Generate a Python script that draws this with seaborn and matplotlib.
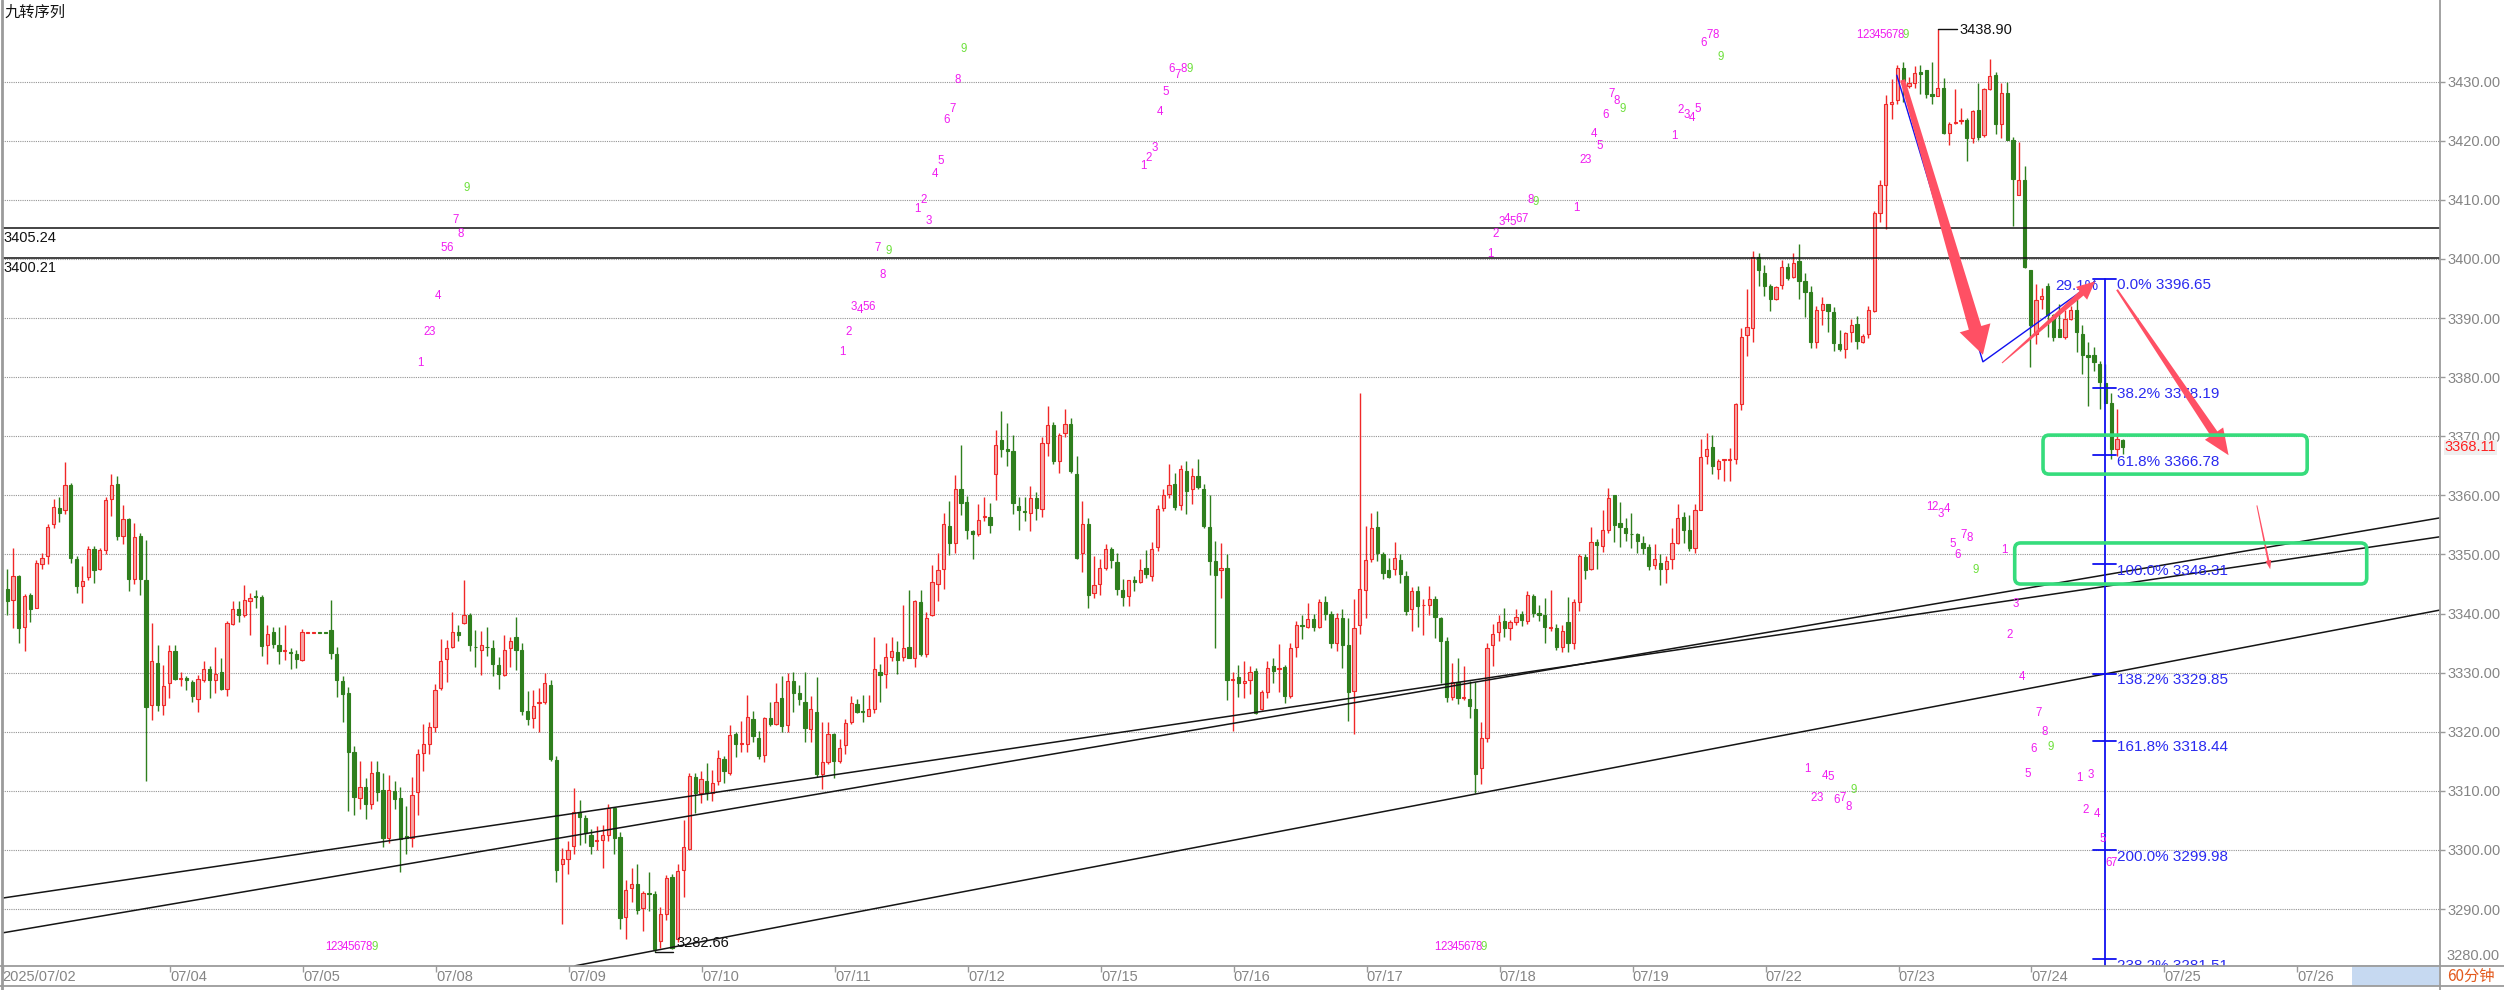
import numpy as np
import pandas as pd
import matplotlib
matplotlib.use("Agg")
import matplotlib.pyplot as plt
import seaborn as sns
from matplotlib.patches import Polygon, FancyBboxPatch, Rectangle
from matplotlib.lines import Line2D
from matplotlib.transforms import IdentityTransform, blended_transform_factory

# ---------------- data (60 min bars) ----------------
opens = [
    3344.2, 3342.3, 3346.4, 3337.7, 3343.2, 3341.0, 3348.4, 3349.7, 3355.1, 3357.9,
    3357.6, 3361.8, 3349.2, 3344.6, 3346.2, 3350.9, 3347.5, 3350.7, 3359.4, 3362.0,
    3353.2, 3356.0, 3345.8, 3353.1, 3345.7, 3324.6, 3331.6, 3324.6, 3328.2, 3333.7,
    3329.0, 3329.1, 3328.5, 3325.5, 3328.8, 3330.7, 3328.8, 3330.2, 3327.2, 3338.2,
    3340.8, 3339.8, 3342.2, 3342.9, 3342.8, 3334.7, 3336.8, 3334.6, 3333.7, 3333.5,
    3333.1, 3332.2, 3336.7, 3336.7, 3336.8, 3336.8, 3337.2, 3333.2, 3328.6, 3326.6,
    3316.5, 3308.8, 3310.7, 3307.7, 3313.2, 3310.1, 3302.1, 3310.0, 3308.8, 3302.3,
    3302.1, 3309.8, 3316.4, 3317.9, 3320.8, 3327.4, 3332.3, 3334.4, 3336.8, 3338.4,
    3339.7, 3334.4, 3333.9, 3334.4, 3334.1, 3331.3, 3329.6, 3334.1, 3336.0, 3333.9,
    3323.6, 3322.3, 3324.9, 3325.0, 3328.0, 3315.3, 3297.7, 3298.5, 3300.6, 3306.5,
    3305.4, 3302.6, 3301.5, 3301.7, 3302.5, 3307.1, 3302.2, 3288.6, 3293.6, 3294.3,
    3290.2, 3292.7, 3292.5, 3284.6, 3289.1, 3295.4, 3285.0, 3296.6, 3300.2, 3312.3,
    3309.6, 3311.7, 3309.7, 3311.6, 3315.4, 3313.0, 3319.6, 3317.9, 3317.9, 3322.1,
    3319.0, 3316.0, 3322.3, 3321.3, 3325.7, 3321.1, 3328.6, 3326.5, 3325.1, 3320.5,
    3323.4, 3312.9, 3314.9, 3319.6, 3315.0, 3317.7, 3321.7, 3324.7, 3323.5, 3322.7,
    3323.9, 3330.2, 3329.7, 3332.6, 3333.5, 3332.6, 3334.3, 3332.5, 3341.9, 3333.1,
    3339.8, 3345.0, 3347.6, 3354.9, 3351.9, 3361.0, 3358.9, 3353.9, 3353.5, 3356.3,
    3356.3, 3363.6, 3369.3, 3367.8, 3367.5, 3358.2, 3357.4, 3357.1, 3359.6, 3357.7,
    3368.8, 3371.9, 3365.9, 3370.5, 3372.1, 3363.7, 3350.3, 3355.1, 3343.5, 3345.0,
    3347.7, 3351.0, 3348.7, 3344.0, 3342.9, 3345.7, 3345.3, 3347.7, 3346.4, 3351.2,
    3357.9, 3360.3, 3362.0, 3358.3, 3364.2, 3361.0, 3363.3, 3361.1, 3354.6, 3348.9,
    3347.3, 3347.7, 3328.8, 3329.2, 3328.2, 3328.8, 3330.3, 3323.9, 3326.7, 3331.1,
    3330.7, 3330.9, 3326.1, 3334.4, 3338.1, 3337.7, 3339.0, 3337.8, 3342.0, 3339.9,
    3335.1, 3339.2, 3334.6, 3326.9, 3338.0, 3344.0, 3349.3, 3354.7, 3350.1, 3347.3,
    3347.5, 3349.0, 3346.3, 3340.8, 3343.9, 3341.4, 3341.4, 3342.5, 3339.3, 3335.3,
    3325.9, 3328.5, 3325.7, 3325.5, 3323.9, 3313.9, 3319.0, 3334.6, 3336.8, 3338.8,
    3337.6, 3338.5, 3339.9, 3338.7, 3342.9, 3340.1, 3339.7, 3337.6, 3337.6, 3334.4,
    3338.5, 3335.0, 3342.0, 3349.5, 3347.5, 3352.1, 3351.4, 3354.1, 3360.0, 3355.3,
    3354.4, 3353.5, 3353.5, 3352.0, 3351.2, 3348.3, 3348.5, 3347.5, 3349.2, 3351.9,
    3356.3, 3354.1, 3351.1, 3357.6, 3366.6, 3368.2, 3364.4, 3366.0, 3366.0, 3366.1,
    3375.5, 3387.2, 3388.3, 3400.3, 3397.7, 3395.5, 3393.2, 3395.6, 3398.7, 3396.9,
    3399.7, 3396.2, 3394.4, 3386.0, 3391.4, 3392.4, 3391.1, 3385.6, 3384.7, 3387.6,
    3389.0, 3386.0, 3387.3, 3391.2, 3407.7, 3412.5, 3426.3, 3426.9, 3432.3, 3429.3,
    3429.8, 3431.7, 3431.9, 3427.9, 3427.5, 3428.9, 3421.4, 3423.0, 3423.3, 3423.5,
    3420.5, 3425.2, 3421.0, 3428.7, 3431.1, 3422.9, 3428.0, 3420.1, 3410.9, 3413.4,
    3398.2, 3387.3, 3393.3, 3395.5, 3390.5, 3388.2, 3386.8, 3389.9, 3391.3, 3387.3,
    3383.7, 3383.7, 3382.3, 3379.0, 3375.7, 3367.8, 3369.4,
]
highs = [
    3347.5, 3351.1, 3346.6, 3343.3, 3343.5, 3349.0, 3350.2, 3355.2, 3359.4, 3359.8,
    3365.6, 3362.1, 3349.8, 3348.0, 3351.4, 3351.5, 3351.1, 3359.8, 3363.6, 3363.2,
    3358.4, 3356.2, 3355.3, 3353.6, 3352.4, 3338.4, 3334.7, 3331.3, 3334.6, 3334.7,
    3330.1, 3329.5, 3328.8, 3329.6, 3331.9, 3331.2, 3334.4, 3332.5, 3338.8, 3342.2,
    3342.2, 3344.9, 3343.5, 3344.0, 3343.1, 3338.0, 3337.7, 3337.7, 3338.0, 3334.1,
    3333.9, 3337.4, 3336.8, 3336.8, 3336.8, 3336.8, 3342.3, 3334.3, 3329.5, 3327.5,
    3317.6, 3315.1, 3312.1, 3315.1, 3315.1, 3313.1, 3312.7, 3311.7, 3310.7, 3307.5,
    3312.3, 3317.1, 3321.4, 3321.7, 3328.1, 3335.7, 3335.5, 3340.2, 3338.0, 3345.6,
    3340.1, 3337.2, 3337.1, 3337.7, 3335.5, 3332.6, 3336.4, 3336.0, 3339.4, 3335.0,
    3326.9, 3327.0, 3327.4, 3329.9, 3328.7, 3315.9, 3300.3, 3301.5, 3310.5, 3308.5,
    3305.9, 3303.6, 3304.0, 3304.2, 3307.8, 3307.3, 3303.0, 3294.9, 3296.9, 3297.7,
    3293.1, 3296.3, 3293.1, 3290.3, 3295.8, 3295.9, 3297.6, 3305.0, 3313.0, 3313.0,
    3313.3, 3314.7, 3313.6, 3316.9, 3315.9, 3321.1, 3320.0, 3321.9, 3326.3, 3323.6,
    3320.2, 3322.5, 3325.1, 3328.2, 3329.5, 3330.0, 3330.2, 3328.0, 3330.2, 3326.0,
    3329.3, 3321.6, 3321.6, 3319.8, 3318.7, 3322.1, 3326.0, 3325.5, 3326.3, 3326.3,
    3336.0, 3331.4, 3335.0, 3336.0, 3335.4, 3341.4, 3344.0, 3342.3, 3344.0, 3340.2,
    3348.2, 3350.2, 3357.1, 3359.0, 3363.5, 3368.5, 3359.9, 3354.1, 3358.6, 3359.7,
    3358.7, 3371.0, 3374.3, 3372.2, 3370.2, 3359.7, 3359.8, 3361.6, 3360.5, 3369.8,
    3375.1, 3372.5, 3370.6, 3374.6, 3373.1, 3366.6, 3359.0, 3356.2, 3349.7, 3349.3,
    3351.7, 3351.2, 3350.3, 3345.9, 3345.7, 3346.4, 3349.3, 3350.8, 3352.1, 3358.4,
    3361.1, 3365.3, 3363.8, 3365.2, 3365.8, 3364.6, 3366.2, 3362.0, 3360.1, 3352.2,
    3352.0, 3350.0, 3330.2, 3331.3, 3331.9, 3331.2, 3330.8, 3327.1, 3332.0, 3332.5,
    3334.9, 3331.3, 3335.0, 3338.7, 3339.8, 3341.8, 3340.0, 3342.5, 3342.9, 3340.4,
    3340.1, 3340.8, 3339.3, 3342.4, 3377.3, 3354.9, 3357.1, 3357.3, 3350.4, 3349.4,
    3352.1, 3350.0, 3347.2, 3344.5, 3344.6, 3342.5, 3344.6, 3342.9, 3339.5, 3336.0,
    3331.6, 3332.5, 3331.1, 3328.6, 3328.4, 3321.6, 3335.0, 3338.3, 3339.8, 3341.0,
    3338.9, 3340.8, 3340.5, 3343.9, 3343.3, 3341.5, 3342.7, 3344.0, 3338.3, 3338.0,
    3342.8, 3342.4, 3350.1, 3350.1, 3354.6, 3352.7, 3357.5, 3361.2, 3360.0, 3358.8,
    3356.1, 3357.1, 3353.7, 3353.1, 3351.7, 3351.8, 3350.1, 3349.7, 3354.4, 3358.5,
    3357.2, 3356.6, 3358.5, 3369.5, 3370.6, 3370.3, 3366.1, 3366.2, 3368.0, 3375.7,
    3388.4, 3394.9, 3401.4, 3401.0, 3399.0, 3395.8, 3395.5, 3399.8, 3399.3, 3401.0,
    3402.5, 3397.7, 3395.5, 3392.1, 3393.6, 3392.4, 3391.9, 3387.9, 3387.6, 3389.8,
    3390.4, 3387.3, 3392.0, 3408.1, 3413.3, 3427.7, 3430.4, 3432.8, 3433.4, 3430.8,
    3432.7, 3432.8, 3432.0, 3433.3, 3438.9, 3430.7, 3423.2, 3428.7, 3425.5, 3423.8,
    3425.2, 3429.8, 3428.9, 3433.8, 3431.7, 3429.8, 3430.0, 3420.7, 3419.8, 3415.7,
    3398.2, 3395.8, 3395.1, 3395.9, 3390.7, 3392.3, 3391.3, 3392.1, 3393.3, 3388.8,
    3385.9, 3385.1, 3382.8, 3382.3, 3377.4, 3374.6, 3369.5,
]
lows = [
    3339.8, 3337.6, 3335.0, 3333.7, 3338.6, 3341.0, 3347.5, 3348.4, 3354.5, 3355.5,
    3356.8, 3348.6, 3343.4, 3341.8, 3345.7, 3345.2, 3347.4, 3350.0, 3356.5, 3352.4,
    3351.8, 3343.8, 3345.0, 3343.1, 3311.6, 3322.0, 3323.6, 3322.8, 3325.7, 3328.8,
    3327.8, 3327.1, 3325.1, 3323.4, 3328.4, 3325.7, 3326.5, 3327.1, 3326.1, 3338.1,
    3338.5, 3339.4, 3336.4, 3341.0, 3332.9, 3331.4, 3334.2, 3331.4, 3332.1, 3330.6,
    3330.8, 3332.0, 3336.7, 3336.7, 3336.7, 3336.7, 3332.3, 3325.9, 3321.6, 3306.6,
    3306.0, 3307.0, 3305.3, 3306.9, 3308.3, 3300.5, 3301.2, 3306.9, 3296.2, 3299.4,
    3300.5, 3306.0, 3313.3, 3316.2, 3319.9, 3327.0, 3328.4, 3334.1, 3335.3, 3338.3,
    3333.7, 3331.0, 3329.6, 3332.9, 3329.5, 3327.2, 3329.4, 3331.0, 3330.5, 3322.8,
    3321.1, 3320.6, 3320.0, 3324.7, 3315.0, 3294.5, 3287.4, 3295.9, 3299.4, 3300.8,
    3301.1, 3299.3, 3300.0, 3297.0, 3301.6, 3299.4, 3286.7, 3284.9, 3291.2, 3289.1,
    3286.3, 3289.6, 3282.66, 3283.4, 3288.2, 3283.2, 3284.5, 3292.0, 3300.0, 3306.3,
    3307.9, 3308.5, 3308.3, 3311.0, 3311.3, 3312.7, 3315.8, 3316.6, 3316.5, 3318.2,
    3315.4, 3314.9, 3321.0, 3321.1, 3319.9, 3319.9, 3323.3, 3324.5, 3318.3, 3318.2,
    3312.3, 3310.3, 3314.5, 3312.2, 3314.7, 3316.3, 3321.3, 3323.2, 3321.7, 3322.6,
    3323.2, 3325.0, 3327.4, 3331.9, 3329.7, 3332.0, 3332.5, 3331.0, 3332.9, 3332.7,
    3339.6, 3342.2, 3344.1, 3349.9, 3350.2, 3356.7, 3352.7, 3349.3, 3353.1, 3355.6,
    3353.6, 3359.3, 3366.5, 3365.0, 3356.9, 3354.2, 3355.6, 3354.0, 3355.9, 3356.4,
    3366.6, 3365.3, 3363.8, 3369.8, 3363.8, 3349.2, 3347.0, 3340.9, 3342.7, 3343.1,
    3347.4, 3347.7, 3343.1, 3341.2, 3341.2, 3343.8, 3345.1, 3346.0, 3345.5, 3350.6,
    3357.3, 3359.6, 3357.5, 3357.5, 3356.8, 3358.5, 3361.1, 3354.4, 3346.6, 3334.2,
    3342.7, 3325.3, 3320.2, 3325.9, 3325.7, 3326.4, 3323.0, 3323.7, 3325.8, 3328.3,
    3326.7, 3324.9, 3325.8, 3332.7, 3335.7, 3337.6, 3337.0, 3337.6, 3338.9, 3334.1,
    3333.7, 3330.8, 3321.9, 3319.6, 3336.6, 3339.3, 3348.7, 3348.9, 3345.9, 3346.0,
    3346.6, 3345.1, 3339.7, 3337.1, 3337.7, 3336.4, 3339.7, 3335.9, 3328.2, 3325.1,
    3325.4, 3324.7, 3325.3, 3322.3, 3309.7, 3311.1, 3318.2, 3331.2, 3335.4, 3336.1,
    3335.5, 3338.1, 3337.9, 3338.2, 3339.5, 3338.7, 3335.1, 3337.0, 3333.8, 3333.5,
    3333.5, 3334.0, 3340.4, 3345.9, 3347.3, 3347.6, 3350.5, 3353.6, 3352.1, 3351.3,
    3352.3, 3351.1, 3350.3, 3350.0, 3347.3, 3347.6, 3344.8, 3345.2, 3347.5, 3351.7,
    3352.0, 3350.6, 3350.3, 3357.5, 3365.3, 3363.7, 3362.7, 3362.5, 3362.5, 3365.3,
    3374.4, 3383.6, 3386.0, 3395.5, 3393.8, 3391.2, 3393.1, 3394.9, 3396.4, 3396.8,
    3393.2, 3390.2, 3385.0, 3385.0, 3388.8, 3387.6, 3384.5, 3384.4, 3383.3, 3386.0,
    3384.7, 3385.8, 3386.7, 3391.0, 3406.3, 3405.0, 3423.7, 3426.3, 3426.6, 3428.9,
    3429.0, 3427.9, 3427.3, 3426.3, 3427.5, 3421.1, 3419.3, 3422.9, 3422.9, 3416.6,
    3419.7, 3420.1, 3420.7, 3428.6, 3421.2, 3420.4, 3420.1, 3405.5, 3410.9, 3398.4,
    3381.7, 3385.6, 3391.6, 3386.8, 3386.2, 3386.8, 3386.5, 3389.6, 3384.2, 3380.6,
    3375.1, 3381.1, 3374.6, 3375.7, 3366.1, 3366.7, 3367.0,
]
closes = [
    3342.2, 3346.3, 3337.6, 3342.9, 3340.8, 3348.6, 3349.4, 3354.7, 3358.1, 3357.0,
    3361.8, 3349.4, 3344.6, 3345.5, 3351.0, 3347.4, 3350.8, 3359.3, 3361.8, 3353.1,
    3356.0, 3345.9, 3352.9, 3345.9, 3324.2, 3332.0, 3324.6, 3327.8, 3333.7, 3328.9,
    3329.1, 3328.8, 3326.1, 3329.0, 3330.7, 3328.8, 3329.8, 3327.2, 3338.4, 3340.7,
    3339.7, 3342.3, 3342.7, 3342.8, 3334.5, 3336.6, 3334.9, 3333.7, 3333.8, 3333.3,
    3332.3, 3336.8, 3336.8, 3336.8, 3336.7, 3336.7, 3333.3, 3328.8, 3326.4, 3316.5,
    3309.0, 3310.7, 3307.7, 3313.1, 3309.8, 3302.1, 3310.1, 3308.7, 3301.8, 3302.1,
    3309.3, 3316.2, 3317.9, 3320.8, 3327.1, 3331.9, 3334.2, 3336.8, 3336.4, 3339.7,
    3334.7, 3334.3, 3334.6, 3334.3, 3331.5, 3329.8, 3333.9, 3335.4, 3333.8, 3323.6,
    3322.2, 3324.3, 3325.1, 3328.2, 3315.4, 3296.6, 3298.5, 3300.0, 3306.5, 3305.5,
    3302.9, 3300.7, 3301.6, 3302.5, 3307.1, 3302.1, 3288.5, 3293.3, 3294.3, 3289.9,
    3292.7, 3292.5, 3283.3, 3289.1, 3295.3, 3283.4, 3296.5, 3300.5, 3312.5, 3309.7,
    3312.0, 3309.6, 3311.4, 3315.6, 3313.3, 3319.4, 3317.9, 3318.0, 3322.5, 3319.3,
    3315.9, 3322.3, 3321.3, 3325.1, 3321.0, 3328.6, 3326.6, 3325.5, 3320.7, 3323.8,
    3312.9, 3314.9, 3319.6, 3315.1, 3317.3, 3321.5, 3324.9, 3323.4, 3323.3, 3323.8,
    3330.6, 3329.6, 3332.6, 3333.7, 3332.1, 3334.1, 3332.5, 3342.1, 3333.1, 3339.3,
    3345.3, 3347.3, 3355.1, 3351.9, 3361.0, 3358.7, 3354.1, 3353.5, 3355.9, 3356.5,
    3355.0, 3368.6, 3367.9, 3367.5, 3358.7, 3357.5, 3357.2, 3359.6, 3357.9, 3368.9,
    3371.9, 3365.8, 3370.2, 3372.1, 3364.1, 3349.4, 3355.1, 3343.2, 3344.9, 3347.7,
    3350.9, 3349.0, 3344.2, 3342.8, 3345.6, 3345.4, 3347.4, 3346.7, 3351.0, 3357.7,
    3360.0, 3361.8, 3358.0, 3364.4, 3360.7, 3363.3, 3361.5, 3354.8, 3348.9, 3346.6,
    3347.7, 3328.8, 3329.0, 3328.2, 3328.6, 3330.2, 3323.2, 3326.7, 3330.8, 3330.3,
    3330.8, 3326.1, 3334.1, 3338.1, 3337.9, 3339.1, 3337.8, 3341.9, 3339.9, 3335.0,
    3339.2, 3334.7, 3326.7, 3337.6, 3344.2, 3349.0, 3354.5, 3350.2, 3346.9, 3346.2,
    3349.4, 3346.7, 3340.5, 3343.8, 3341.2, 3341.5, 3342.5, 3339.5, 3335.4, 3325.9,
    3328.4, 3325.7, 3325.8, 3324.4, 3312.9, 3318.9, 3334.2, 3336.6, 3338.5, 3337.6,
    3338.5, 3339.5, 3338.9, 3343.2, 3340.1, 3339.8, 3337.7, 3337.7, 3334.4, 3337.0,
    3335.0, 3342.0, 3349.7, 3347.3, 3352.1, 3351.6, 3354.1, 3359.6, 3355.0, 3354.7,
    3353.6, 3353.4, 3352.3, 3351.1, 3348.1, 3349.3, 3347.6, 3348.9, 3351.9, 3356.1,
    3354.1, 3351.1, 3357.6, 3366.5, 3367.8, 3364.9, 3365.9, 3366.1, 3366.1, 3375.5,
    3386.8, 3388.5, 3400.3, 3398.1, 3395.5, 3393.2, 3395.2, 3398.7, 3396.8, 3399.3,
    3396.3, 3394.4, 3386.0, 3391.4, 3392.4, 3391.2, 3385.7, 3384.7, 3387.4, 3388.8,
    3386.2, 3386.9, 3391.3, 3407.7, 3412.5, 3426.2, 3426.6, 3432.3, 3429.4, 3429.8,
    3431.5, 3431.3, 3427.9, 3427.6, 3428.9, 3421.4, 3422.8, 3423.1, 3423.5, 3420.4,
    3425.0, 3420.6, 3428.7, 3430.9, 3422.9, 3428.0, 3420.1, 3413.5, 3413.4, 3398.6,
    3388.8, 3393.1, 3393.7, 3390.5, 3386.8, 3386.8, 3389.9, 3391.3, 3387.6, 3383.7,
    3383.4, 3382.5, 3379.2, 3375.7, 3367.8, 3369.5, 3368.11,
]

# first bar of each trading day and its label
day_first_bar = [0, 29, 52, 75, 98, 121, 144, 167, 190, 213, 236, 259, 282, 305, 328, 351, 374, 397]
day_labels = ['2025/07/02', '07/04', '07/05', '07/08', '07/09', '07/10', '07/11', '07/12', '07/15',
              '07/16', '07/17', '07/18', '07/19', '07/22', '07/23', '07/24', '07/25', '07/26']

price_ticks = list(range(3290, 3431, 10))
level_lines = [3405.24, 3400.21]

# Fibonacci ruler
fib_ratio = ['0.0%', '38.2%', '61.8%', '100.0%', '138.2%', '161.8%', '200.0%', '238.2%']
fib_price = [3396.65, 3378.19, 3366.78, 3348.31, 3329.85, 3318.44, 3299.98, 3281.51]
fib_bar = 363

# hand drawn lines (bar, price)
swing_bar = [326.9, 341.8, 361.2]
swing_price = [3431.1, 3382.6, 3396.2]
trend_bar = [(-1.26, 420.9), (-1.26, 420.9), (98.2, 420.9)]
trend_price = [(3291.8, 3353.0), (3285.9, 3356.2), (3280.4, 3340.6)]

# red arrows: (start bar, start price, tip bar, tip price)
arrow_start = [(327.9, 3430.3), (345.1, 3382.4), (365.0, 3394.8), (389.2, 3358.3)]
arrow_tip = [(341.8, 3383.8), (361.2, 3396.2), (384.3, 3366.8), (391.5, 3347.5)]
# arrow sizes in pixels: tail width, shaft width, head width, head length
arrow_size = [(5, 13, 32, 28), (1, 6, 17, 18), (2, 8, 22, 26), (1, 2, 6, 9)]

# green boxes (bar range, price range)
box_bar = [(352.2, 397.9), (347.3, 408.2)]
box_price = [(3363.6, 3370.2), (3345.0, 3351.95)]

# 九转 counts: first bar (1-based) of each count and the height of every digit
td_first_bar = [57, 73, 146, 159, 198, 249, 258, 273, 290, 313, 322, 334, 347, 360]
td_prices = [
    [3283.6, 3283.6, 3283.6, 3283.6, 3283.6, 3283.6, 3283.6, 3283.6, 3283.6],
    [3382.4, 3387.7, 3387.7, 3393.8, 3401.8, 3401.8, 3406.6, 3404.2, 3412.0],
    [3384.3, 3387.6, 3391.9, 3391.3, 3391.9, 3391.9, 3401.9, 3397.3, 3401.4],
    [3408.4, 3410.0, 3406.5, 3414.4, 3416.5, 3423.5, 3425.4, 3430.3, 3435.5],
    [3415.7, 3417.1, 3418.7, 3424.9, 3428.2, 3432.2, 3431.1, 3432.2, 3432.2],
    [3283.6, 3283.6, 3283.6, 3283.6, 3283.6, 3283.6, 3283.6, 3283.6, 3283.6],
    [3400.8, 3404.3, 3406.2, 3406.8, 3406.2, 3406.8, 3406.8, 3410.0, 3409.7],
    [3408.7, 3416.8, 3416.8, 3421.1, 3419.2, 3424.4, 3427.9, 3426.8, 3425.4],
    [3420.8, 3425.2, 3424.4, 3423.8, 3425.4, 3436.5, 3437.9, 3437.9, 3434.1],
    [3313.7, 3308.8, 3308.8, 3312.6, 3312.4, 3308.5, 3308.8, 3307.2, 3310.1],
    [3437.9, 3437.9, 3437.9, 3437.9, 3437.9, 3437.9, 3437.9, 3437.9, 3437.9],
    [3358.1, 3358.1, 3356.9, 3357.7, 3351.8, 3349.9, 3353.3, 3352.8, 3347.4],
    [3350.7, 3336.4, 3341.6, 3329.3, 3312.8, 3317.1, 3323.2, 3320.0, 3317.5],
    [3312.2, 3306.8, 3312.7, 3306.1, 3301.9, 3297.8, 3297.8],
]

# ---------------- style ----------------
sns.set_theme(style='white')
plt.rcParams['font.family'] = ['Liberation Sans', 'Noto Sans CJK SC', 'DejaVu Sans']

RED = '#f02828'
RED_FILL = '#f6a5a5'
GREEN = '#2f7f1e'
MAGENTA = '#f01cf0'
TD_GREEN = '#6ee03c'
BLUE = '#1010f0'
ARROW = '#ff5064'
BOX = '#36dc7c'
GRAY_TXT = '#858585'

W, H = 2504, 990
fig = plt.figure(figsize=(W / 100, H / 100), dpi=100)
ax = fig.add_axes([2 / W, 24 / H, (2440 - 2) / W, 966 / H])
ax.set_xlim(-0.917, 420.88)
ax.set_ylim(3280.37, 3443.82)
ax.set_autoscale_on(False)

df = pd.DataFrame({'open': opens, 'high': highs, 'low': lows, 'close': closes})
df['x'] = np.arange(len(df))
df['up'] = df['close'] >= df['open']

# grid
ax.set_yticks(price_ticks)
ax.set_yticklabels([f'{v:.2f}' for v in price_ticks])
ax.grid(axis='y', linestyle=(0, (1, 1)), color='#949494', lw=0.8)
ax.grid(axis='x', visible=False)

# candles
wick_col = np.where(df['up'], RED, GREEN)
ax.vlines(df['x'], df['low'], df['high'], colors=wick_col, lw=1.0, zorder=2)
body_lo = df[['open', 'close']].min(axis=1)
body_h = (df['close'] - df['open']).abs().clip(lower=0.12)
ax.bar(df['x'], body_h, bottom=body_lo, width=0.56,
       color=np.where(df['up'], RED_FILL, GREEN), edgecolor=wick_col, linewidth=0.8, zorder=3)

# horizontal levels
for lvl in level_lines:
    ax.axhline(lvl, color='#111111', lw=1.1, zorder=4)
    ax.text(-0.64, lvl - 0.55, f'{lvl:.2f}', fontsize=10.5, color='#111111', ha='left', va='top', zorder=6)

# trend lines
for (x0, x1), (p0, p1) in zip(trend_bar, trend_price):
    seg = pd.DataFrame({'bar': [x0, x1], 'price': [p0, p1]})
    sns.lineplot(data=seg, x='bar', y='price', ax=ax, color='#151515', lw=1.1, zorder=4)

# swing lines
swing = pd.DataFrame({'bar': swing_bar, 'price': swing_price})
sns.lineplot(data=swing, x='bar', y='price', ax=ax, color=BLUE, lw=1.0, sort=False, zorder=5)

# fib ruler
ax.plot([fib_bar, fib_bar], [fib_price[0], 3270], color=BLUE, lw=1.3, zorder=5)
for r, p in zip(fib_ratio, fib_price):
    ax.plot([fib_bar - 2.2, fib_bar + 1.8], [p, p], color=BLUE, lw=1.3, zorder=5)
    ax.text(fib_bar + 2.0, p + 0.1, f'{r} {p:.2f}', color='#2a2af0', fontsize=11,
            ha='left', va='top', zorder=6, clip_on=True)
ax.text(fib_bar - 8.7, fib_price[0] - 1.2, '29.1%', color='#2a2af0', fontsize=11,
        ha='left', va='center', zorder=6)

# high / low markers
hi_i = int(np.argmax(df['high']))
lo_i = int(np.argmin(df['low']))
ax.plot([hi_i, hi_i + 3.4], [df['high'][hi_i]] * 2, color='#111111', lw=1.0, zorder=6)
ax.text(hi_i + 3.8, df['high'][hi_i] - 0.15, f"{df['high'][hi_i]:.2f}", fontsize=10.5,
        color='#111111', ha='left', va='center', zorder=6)
ax.plot([lo_i, lo_i + 3.2], [df['low'][lo_i]] * 2, color='#111111', lw=1.0, zorder=6)
ax.text(lo_i + 3.8, df['low'][lo_i] + 1.6, f"{df['low'][lo_i]:.2f}", fontsize=10.5,
        color='#111111', ha='left', va='center', zorder=6)

# 九转 digits
for first, prices in zip(td_first_bar, td_prices):
    for k, p in enumerate(prices):
        ax.text(first - 1 + k - 0.5, p, str(k + 1), fontsize=8.3,
                color=TD_GREEN if k == 8 else MAGENTA, ha='center', va='center', zorder=6)

# title
ax.text(0.0012, 1 - 12.7 / 966, '九转序列', transform=ax.transAxes, fontsize=11,
        ha='left', va='center', color='#111111', family=['Noto Sans CJK SC'])

# axes decoration
for s in ['top', 'bottom', 'left', 'right']:
    ax.spines[s].set_visible(False)
ax.yaxis.tick_right()
ax.tick_params(axis='y', direction='out', length=3.6, width=1, color='#9a9a9a',
               labelcolor=GRAY_TXT, labelsize=10.5, pad=1.5)
ax.set_xticks([b - 0.8 for b in day_first_bar])
ax.set_xticklabels(day_labels)
ax.tick_params(axis='x', direction='out', length=4.5, width=1, color='#9a9a9a',
               labelcolor=GRAY_TXT, labelsize=10.5, pad=-1.8, bottom=True)
for lab in ax.get_xticklabels():
    lab.set_horizontalalignment('left')
ax.set_xlabel('')
ax.set_ylabel('')

blend = blended_transform_factory(ax.transAxes, ax.transData)
ax.text(1.0025, 3282.0, '3280.00', transform=blend, fontsize=10.5, color=GRAY_TXT,
        ha='left', va='center', clip_on=False)
ax.text(1.0020, closes[-1], f'{closes[-1]:.2f}', transform=blend, fontsize=10.5, color='#ff2020',
        ha='left', va='center', clip_on=False, zorder=10,
        bbox=dict(facecolor='#efefef', edgecolor='none', pad=0.6))

# frame lines of the chart window
fig.add_artist(Line2D([0, 1], [1 - 966 / H] * 2, transform=fig.transFigure, color='#9b9b9b', lw=1.3))
fig.add_artist(Line2D([0, 1], [1 - 986 / H] * 2, transform=fig.transFigure, color='#9b9b9b', lw=1.3))
fig.add_artist(Line2D([2440 / W] * 2, [0, 1], transform=fig.transFigure, color='#9b9b9b', lw=1.3))
fig.add_artist(Line2D([1.5 / W] * 2, [0, 1], transform=fig.transFigure, color='#9b9b9b', lw=2.0))
fig.add_artist(Rectangle((2352 / W, 4.5 / H), 87 / W, 20.5 / H, transform=fig.transFigure,
                         facecolor='#c6d9f1', edgecolor='none'))
fig.text(2447 / W, 1 - 976.5 / H, '60分钟', color='#e35a1e', fontsize=11, ha='left', va='center',
         family=['Noto Sans CJK SC'])


# ---------------- pixel-space annotations ----------------
def to_px(x, y):
    return ax.transData.transform((x, y))


for (sx, sp), (tx, tp), (w0, w1, hw, hl) in zip(arrow_start, arrow_tip, arrow_size):
    s = to_px(sx, sp)
    t = to_px(tx, tp)
    u = (t - s) / np.hypot(*(t - s))
    v = np.array([-u[1], u[0]])
    b = t - u * hl
    pts = [s + v * w0 / 2, b + v * w1 / 2, b + v * hw / 2, t, b - v * hw / 2, b - v * w1 / 2, s - v * w0 / 2]
    fig.add_artist(Polygon(pts, closed=True, transform=IdentityTransform(),
                           facecolor=ARROW, edgecolor='none', zorder=5))

for (x0, x1), (p0, p1) in zip(box_bar, box_price):
    a = to_px(x0, p0)
    c = to_px(x1, p1)
    fig.add_artist(FancyBboxPatch((a[0], a[1]), c[0] - a[0], c[1] - a[1],
                                  boxstyle='round,pad=0,rounding_size=6', transform=IdentityTransform(),
                                  fill=False, edgecolor=BOX, lw=2.6, zorder=5))

fig.savefig('out.png', dpi=100, facecolor='white')
